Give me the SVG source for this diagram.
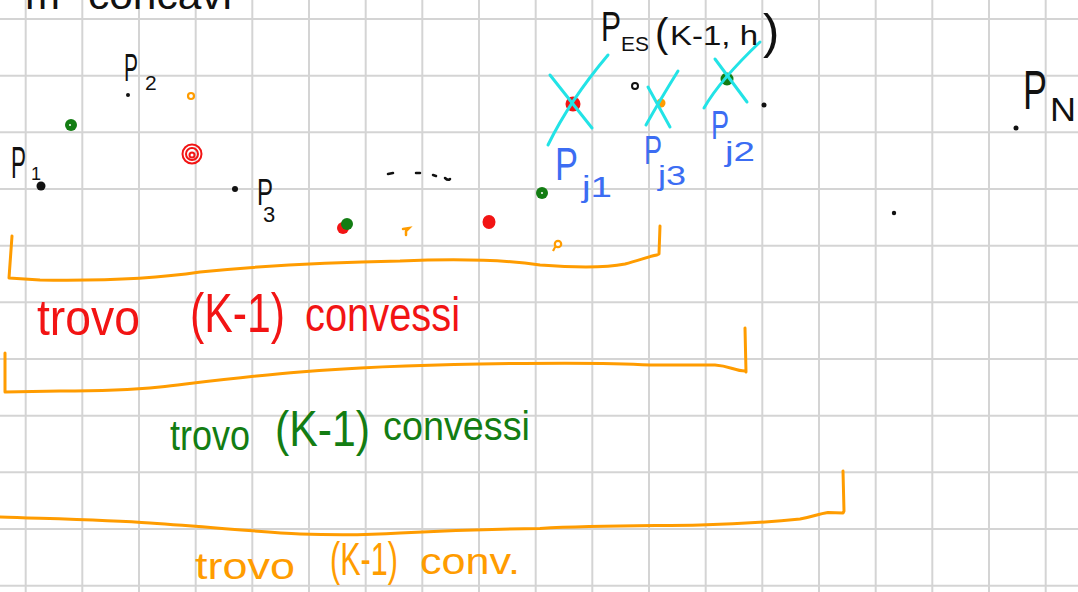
<svg xmlns="http://www.w3.org/2000/svg" width="1078" height="592" viewBox="0 0 1078 592">
<style>
.grid line{stroke:#d4d4d4;stroke-width:2}
text{font-family:"Liberation Sans",Arial,sans-serif}
.k{fill:#111}
.r{fill:#f21414}
.g{fill:#137d13}
.o{fill:#ff9c00}
.b{fill:#3c6df3}
.brk{fill:none;stroke:#ff9c00;stroke-width:3;stroke-linecap:round;stroke-linejoin:round}
.x{fill:none;stroke:#22e3e6;stroke-width:3;stroke-linecap:round}
</style>
<rect width="1078" height="592" fill="#ffffff"/>
<g class="grid" id="grid">
<line x1="25.7" y1="0" x2="25.7" y2="592"/><line x1="82.3" y1="0" x2="82.3" y2="592"/><line x1="139" y1="0" x2="139" y2="592"/><line x1="195.7" y1="0" x2="195.7" y2="592"/><line x1="252.3" y1="0" x2="252.3" y2="592"/><line x1="309" y1="0" x2="309" y2="592"/><line x1="365.7" y1="0" x2="365.7" y2="592"/><line x1="422.3" y1="0" x2="422.3" y2="592"/><line x1="479" y1="0" x2="479" y2="592"/><line x1="535.7" y1="0" x2="535.7" y2="592"/><line x1="592.3" y1="0" x2="592.3" y2="592"/><line x1="649" y1="0" x2="649" y2="592"/><line x1="705.7" y1="0" x2="705.7" y2="592"/><line x1="762.3" y1="0" x2="762.3" y2="592"/><line x1="819" y1="0" x2="819" y2="592"/><line x1="875.7" y1="0" x2="875.7" y2="592"/><line x1="932.3" y1="0" x2="932.3" y2="592"/><line x1="989" y1="0" x2="989" y2="592"/><line x1="1045.7" y1="0" x2="1045.7" y2="592"/>
<line x1="0" y1="19" x2="1078" y2="19"/><line x1="0" y1="75.7" x2="1078" y2="75.7"/><line x1="0" y1="132.3" x2="1078" y2="132.3"/><line x1="0" y1="189" x2="1078" y2="189"/><line x1="0" y1="245.7" x2="1078" y2="245.7"/><line x1="0" y1="302.3" x2="1078" y2="302.3"/><line x1="0" y1="359" x2="1078" y2="359"/><line x1="0" y1="415.7" x2="1078" y2="415.7"/><line x1="0" y1="472.3" x2="1078" y2="472.3"/><line x1="0" y1="529" x2="1078" y2="529"/><line x1="0" y1="585.7" x2="1078" y2="585.7"/>
</g>
<g id="title"><text class="k" y="9" font-size="40"><tspan x="25" textLength="35" lengthAdjust="spacingAndGlyphs">m</tspan><tspan x="88" textLength="144" lengthAdjust="spacingAndGlyphs">concavi</tspan></text></g>
<g id="points">
<circle cx="41" cy="186" r="4.5" fill="#111"/>
<circle cx="128" cy="95" r="2" fill="#111"/>
<circle cx="191" cy="96" r="3" fill="#fff" stroke="#ff9c00" stroke-width="2.2"/>
<circle cx="71" cy="125" r="6" fill="#137d13"/><circle cx="70" cy="125" r="1" fill="#fff"/>
<g fill="none" stroke="#f21414" stroke-width="2"><circle cx="192" cy="154" r="9.5"/><circle cx="192" cy="154" r="6"/><circle cx="192" cy="155" r="2.5"/></g>
<circle cx="235" cy="189" r="3" fill="#111"/>
<circle cx="343" cy="228" r="6" fill="#f21414"/><circle cx="347" cy="224" r="6" fill="#137d13"/>
<path d="M403,229 L409,228 L406,231 L406,235" fill="none" stroke="#ff9c00" stroke-width="2.5" stroke-linecap="round"/>
<ellipse cx="489" cy="222" rx="6.5" ry="7" fill="#f21414"/>
<circle cx="542" cy="193" r="6" fill="#137d13"/><circle cx="542" cy="193" r="1" fill="#fff"/>
<circle cx="558" cy="244" r="3.2" fill="#fff" stroke="#ff9c00" stroke-width="2.2"/>
<path d="M553,251 Q555,247 556,246" fill="none" stroke="#ff9c00" stroke-width="2.2"/>
<circle cx="573" cy="104" r="7.5" fill="#f21414"/>
<circle cx="635" cy="86" r="3" fill="#fff" stroke="#111" stroke-width="2"/>
<circle cx="661" cy="103" r="4.5" fill="#ff9c00"/>
<circle cx="727" cy="79" r="6.5" fill="#137d13"/>
<circle cx="764" cy="105" r="2.5" fill="#111"/>
<circle cx="894" cy="213" r="2.2" fill="#111"/>
<circle cx="1016" cy="128" r="2.5" fill="#111"/>
<g stroke="#111" stroke-width="2.5" stroke-linecap="round"><line x1="388" y1="174" x2="393" y2="173"/><line x1="416" y1="173" x2="420" y2="173"/><line x1="433" y1="175" x2="436" y2="176"/><path d="M445,178 Q448,181 450,179" fill="none"/></g>
</g>
<g id="crosses">
<path class="x" d="M550,75 L592,128"/><path class="x" d="M608,55 Q570,100 548,145"/>
<path class="x" d="M648,87 L670,127"/><path class="x" d="M678,71 Q660,100 646,125"/>
<path class="x" d="M715,59 L747,102"/><path class="x" d="M760,42 Q720,80 704,108"/>
</g>
<g id="labels">
<text class="k"><tspan x="11" y="178" font-size="44" textLength="15" lengthAdjust="spacingAndGlyphs">P</tspan><tspan x="31" y="180" font-size="18">1</tspan></text>
<text class="k"><tspan x="124" y="81" font-size="38" textLength="14" lengthAdjust="spacingAndGlyphs">P</tspan><tspan x="145" y="90" font-size="21">2</tspan></text>
<text class="k"><tspan x="257" y="205" font-size="36" textLength="16" lengthAdjust="spacingAndGlyphs">P</tspan><tspan x="263" y="222" font-size="22">3</tspan></text>
<text class="k"><tspan x="1023" y="109" font-size="55" textLength="24" lengthAdjust="spacingAndGlyphs">P</tspan><tspan x="1050" y="121" font-size="34" textLength="26" lengthAdjust="spacingAndGlyphs">N</tspan></text>
<text class="k"><tspan x="601" y="41" font-size="42" textLength="20" lengthAdjust="spacingAndGlyphs">P</tspan><tspan x="621" y="51" font-size="20" textLength="28" lengthAdjust="spacingAndGlyphs">ES</tspan><tspan x="655" y="47" font-size="40">(</tspan><tspan x="670" y="45" font-size="28" textLength="88" lengthAdjust="spacingAndGlyphs">K-1, h</tspan><tspan x="763" y="48" font-size="49">)</tspan></text>
<text class="b"><tspan x="555" y="180" font-size="46" textLength="23" lengthAdjust="spacingAndGlyphs">P</tspan><tspan x="582" y="197" font-size="30" textLength="30" lengthAdjust="spacingAndGlyphs">j1</tspan></text>
<text class="b"><tspan x="644" y="164" font-size="40" textLength="18" lengthAdjust="spacingAndGlyphs">P</tspan><tspan x="658" y="185" font-size="28" textLength="28" lengthAdjust="spacingAndGlyphs">j3</tspan></text>
<text class="b"><tspan x="711" y="139" font-size="40" textLength="18" lengthAdjust="spacingAndGlyphs">P</tspan><tspan x="725" y="161" font-size="28" textLength="30" lengthAdjust="spacingAndGlyphs">j2</tspan></text>
</g>
<g id="brackets">
<path class="brk" d="M12,236 L9,278 L40,280 C100,281 160,278 200,272 C260,266 340,262 400,261 C450,259 500,259 540,265 C580,268 610,267 625,264 C640,260 650,256 657,255 L659,254 L660,226"/>
<path class="brk" d="M5,353 L5,392 L60,391 C100,391 130,390 160,387 C220,380 260,375 300,372 C360,367 420,365 480,364 C540,363 600,362 650,365 L715,365 C730,366 735,371 745,371 L746,372 L745,328"/>
<path class="brk" d="M0,517 C60,519 110,520 150,523 C210,527 260,532 300,534 C340,535.5 370,535 400,533 C460,530 500,529 540,528.5 C600,525 660,526 700,525 C740,524 780,521 800,519 C812,517 818,514 828,512.5 L843,513 L844,511 L843,471"/>
</g>
<g id="text-red" class="r">
<text x="37" y="335" font-size="50" textLength="103" lengthAdjust="spacingAndGlyphs">trovo</text>
<text x="190" y="332" font-size="56" textLength="95" lengthAdjust="spacingAndGlyphs">(K-1)</text>
<text x="305" y="331" font-size="48" textLength="155" lengthAdjust="spacingAndGlyphs">convessi</text>
</g>
<g id="text-green" class="g">
<text x="170" y="450" font-size="42" textLength="80" lengthAdjust="spacingAndGlyphs">trovo</text>
<text x="275" y="446" font-size="50" textLength="95" lengthAdjust="spacingAndGlyphs">(K-1)</text>
<text x="383" y="440" font-size="40" textLength="147" lengthAdjust="spacingAndGlyphs">convessi</text>
</g>
<g id="text-orange" class="o">
<text x="195" y="579" font-size="36" textLength="100" lengthAdjust="spacingAndGlyphs">trovo</text>
<text x="330" y="575" font-size="46" textLength="68" lengthAdjust="spacingAndGlyphs">(K-1)</text>
<text x="420" y="574" font-size="36" textLength="100" lengthAdjust="spacingAndGlyphs">conv.</text>
</g>
</svg>
